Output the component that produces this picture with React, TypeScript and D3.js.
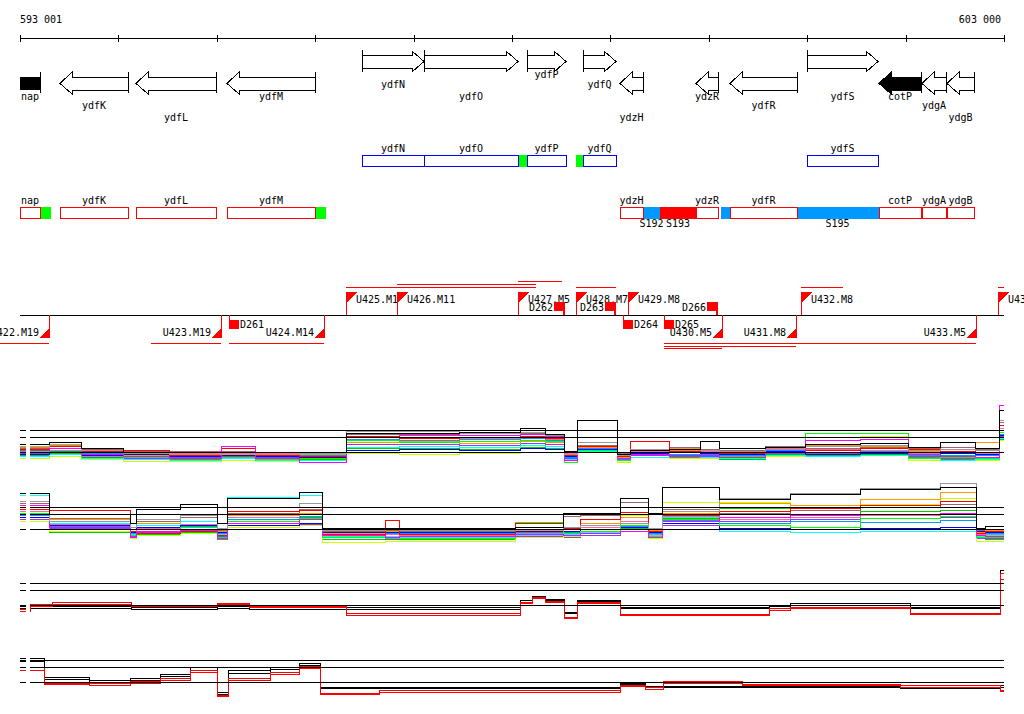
import React, { useEffect, useRef } from "react";
import * as d3 from "d3";

// genomic window (bp)
const windowStart = 593001;
const windowEnd = 603000;
const rulerTicks = [593001, 594000, 595000, 596000, 597000, 598000, 599000, 600000, 601000, 602000, 603000];
const rulerLabels = ["593 001", "603 000"];

// annotated genes
const geneNames = ["nap", "ydfK", "ydfL", "ydfM", "ydfN", "ydfO", "ydfP", "ydfQ", "ydzH", "ydzR", "ydfR", "ydfS", "cotP", "ydgA", "ydgB"];
const geneStarts = [593001, 593407, 594180, 595105, 596476, 597106, 598153, 598722, 599098, 599871, 600216, 600999, 601730, 602167, 602421];
const geneEnds = [593204, 594098, 594993, 595999, 597106, 598062, 598550, 599058, 599332, 600094, 600897, 601720, 602157, 602411, 602695];
const geneStrands = [-1, -1, -1, -1, 1, 1, 1, 1, -1, -1, -1, 1, -1, -1, -1];
const geneLabelTier = [2, 3, 4, 2, 1, 2, 0, 1, 4, 2, 3, 2, 2, 3, 4];
const filledGenes = ["nap", "cotP"];

// extra features on the box rows
const blockStarts = [598062, 598651, 593204, 595999, 599332, 599505, 600125, 600897];
const blockEnds = [598153, 598722, 593306, 596100, 599505, 599871, 600216, 601720];
const blockStrands = [1, 1, -1, -1, -1, -1, -1, -1];
const blockKinds = ["utr", "utr", "utr", "utr", "intergenic", "transcribed", "intergenic", "intergenic"];
const blockLabels = ["", "", "", "", "S192", "S193", "", "S195"];

// segmentation breakpoints
const upNames = ["U425.M1", "U426.M11", "U427.M5", "U428.M7", "U429.M8", "U432.M8", "U43"];
const upPos = [596314, 596832, 598062, 598651, 599179, 600938, 602939];
const downNames = ["U422.M19", "U423.M19", "U424.M14", "U430.M5", "U431.M8", "U433.M5"];
const downPos = [593296, 595044, 596090, 600135, 600887, 602716];
const dNames = ["D261", "D262", "D263", "D264", "D265", "D266"];
const dPos = [595125, 598529, 599047, 599129, 599545, 600084];
const dStrands = [-1, 1, 1, -1, -1, 1];

// transcript spans
const spanStarts = [596314, 596832, 598062, 598651, 600938, 602939, 592798, 594332, 595125, 599545, 599545, 599545];
const spanEnds = [598245, 598245, 598509, 599057, 601364, 603000, 593296, 595044, 596090, 602716, 600887, 600135];
const spanStrands = [1, 1, 1, 1, 1, 1, -1, -1, -1, -1, -1, -1];
const spanTier = [0, 1, 2, 0, 0, 0, 0, 0, 0, 0, 1, 2];

// conditions (tiling array hybridisations)
const conditionColors = ["#000000", "#999999", "#ff00ff", "#ff0000", "#00ff00", "#0000ff", "#00ffff", "#ff9900", "#ccff00", "#996666", "#0099ff", "#9933ff", "#ff6699", "#00cc00"];
const thresholds = [10, 9.35, 7.85];

const fwdBreaks = [593001, 593296, 593631, 594048, 594525, 595044, 595399, 595846, 596314, 596862, 597472, 598082, 598336, 598539, 598671, 599068, 599200, 599596, 599911, 600114, 600572, 600978, 601537, 602025, 602350, 602706, 602950];
const fwdSignal = [
  [8.6, 8.8, 8.2, 7.8, 7.8, 7.8, 7.8, 7.8, 9.7, 9.7, 9.8, 10.2, 9.6, 7.9, 11.0, 7.6, 8.0, 8.1, 8.9, 8.2, 8.3, 8.6, 8.7, 8.3, 8.8, 8.2, 12.0],
  [8.3, 8.5, 8.0, 7.7, 7.6, 7.8, 7.6, 7.7, 9.9, 9.9, 9.7, 9.8, 9.5, 7.6, 8.8, 7.5, 8.1, 8.0, 8.0, 7.9, 8.2, 8.4, 8.5, 8.0, 8.1, 8.0, 11.0],
  [8.0, 8.2, 7.6, 7.4, 7.2, 8.4, 7.2, 6.8, 9.7, 9.6, 9.5, 9.6, 9.4, 7.0, 11.0, 7.2, 7.6, 7.4, 7.5, 7.3, 7.8, 9.0, 9.1, 7.6, 7.4, 7.3, 12.5],
  [8.1, 8.4, 7.9, 8.0, 7.5, 8.2, 7.5, 7.4, 9.4, 9.2, 9.3, 9.4, 9.2, 7.5, 8.4, 7.4, 8.9, 7.9, 7.8, 7.7, 8.2, 8.0, 8.2, 8.1, 7.9, 7.8, 10.5],
  [7.9, 8.0, 7.4, 7.3, 7.2, 7.3, 7.1, 7.2, 9.0, 8.8, 8.9, 9.0, 8.9, 6.8, 8.0, 7.0, 8.9, 7.4, 7.5, 7.4, 7.8, 9.7, 9.7, 7.2, 7.3, 7.2, 9.8],
  [7.6, 7.8, 7.5, 7.6, 7.4, 7.5, 7.4, 7.3, 8.0, 8.1, 8.0, 8.2, 8.1, 7.4, 8.1, 7.5, 7.7, 7.8, 7.7, 7.6, 7.9, 7.6, 7.7, 7.8, 7.7, 7.6, 9.5],
  [7.4, 7.6, 7.2, 7.1, 7.0, 7.2, 7.0, 7.0, 8.3, 8.4, 8.3, 8.5, 8.4, 7.1, 7.9, 7.0, 7.3, 7.4, 7.3, 7.2, 7.5, 7.4, 7.5, 7.2, 7.0, 7.1, 9.2],
  [8.4, 8.6, 7.8, 7.5, 7.6, 7.6, 7.5, 7.6, 8.8, 8.9, 8.7, 8.9, 8.8, 7.6, 8.3, 7.3, 8.1, 8.2, 8.0, 7.9, 8.3, 8.5, 8.4, 7.9, 7.8, 8.8, 10.0],
  [7.2, 7.4, 7.1, 6.9, 6.9, 7.0, 6.9, 7.0, 7.7, 7.6, 7.7, 7.8, 7.8, 6.8, 7.8, 6.8, 8.9, 7.2, 7.2, 7.2, 7.4, 9.3, 9.4, 7.0, 7.0, 7.0, 9.0],
  [8.2, 8.6, 8.1, 7.9, 7.9, 7.9, 7.8, 7.8, 9.6, 9.5, 9.5, 9.7, 9.6, 7.8, 8.5, 7.7, 8.0, 8.3, 8.1, 8.0, 8.4, 8.2, 8.3, 8.2, 8.3, 8.1, 10.8],
  [7.8, 8.0, 7.7, 7.5, 7.5, 7.6, 7.5, 7.5, 9.1, 9.0, 9.1, 9.2, 9.0, 7.3, 8.2, 7.1, 7.8, 7.6, 7.6, 7.5, 8.0, 7.8, 7.9, 7.5, 7.5, 7.5, 9.6],
  [7.7, 7.9, 7.3, 7.2, 7.3, 7.4, 7.3, 7.2, 8.6, 8.6, 8.5, 8.7, 8.6, 7.2, 8.0, 7.2, 7.5, 7.5, 7.4, 7.3, 7.7, 7.7, 7.8, 7.4, 7.2, 7.3, 9.4],
  [8.0, 8.2, 7.9, 7.7, 7.7, 7.7, 7.7, 7.6, 9.3, 9.3, 9.2, 9.3, 9.1, 7.7, 8.3, 7.6, 7.9, 8.0, 7.9, 7.8, 8.1, 8.1, 8.0, 7.7, 7.9, 7.7, 10.2],
  [7.5, 7.7, 7.6, 7.4, 7.1, 7.3, 7.2, 7.1, 8.2, 8.2, 8.1, 8.3, 8.2, 7.0, 7.9, 7.2, 7.6, 7.3, 7.3, 7.1, 7.6, 7.5, 7.6, 7.3, 7.1, 7.2, 9.1],
];

const revBreaks = [593001, 593296, 594119, 594180, 594627, 595003, 595105, 595846, 596070, 596710, 596862, 598031, 598519, 598692, 599098, 599383, 599525, 600114, 600826, 601537, 602350, 602716, 602807];
const revSignal = [
  [11.4, 9.3, 8.4, 9.8, 10.3, 8.4, 10.9, 11.5, 7.9, 7.9, 7.9, 8.0, 9.4, 9.4, 10.9, 9.4, 12.0, 10.8, 11.3, 11.8, 12.0, 7.9, 8.1],
  [10.6, 8.6, 8.0, 8.8, 9.2, 7.9, 10.0, 10.4, 7.7, 7.8, 7.7, 7.8, 8.0, 8.2, 8.4, 7.9, 9.6, 10.9, 11.4, 11.9, 12.4, 7.8, 7.8],
  [10.2, 8.0, 7.0, 7.6, 7.8, 6.9, 8.4, 8.8, 7.2, 7.0, 7.1, 7.3, 7.2, 7.4, 7.6, 7.0, 8.6, 9.0, 9.2, 9.3, 9.4, 7.2, 7.1],
  [9.8, 9.7, 7.6, 7.4, 7.6, 7.2, 9.6, 9.7, 7.3, 8.7, 7.3, 8.4, 7.9, 8.8, 9.5, 7.6, 9.2, 9.6, 9.9, 10.2, 10.6, 7.4, 7.6],
  [9.4, 7.8, 7.2, 7.8, 8.0, 7.0, 8.6, 8.9, 7.0, 6.9, 6.9, 8.5, 7.4, 7.6, 8.2, 7.1, 8.8, 8.2, 8.0, 8.9, 9.1, 7.0, 7.0],
  [9.0, 8.2, 7.5, 8.0, 8.2, 7.5, 8.2, 8.4, 7.5, 7.5, 7.5, 7.6, 7.6, 7.8, 8.0, 7.5, 8.4, 7.9, 7.8, 7.9, 8.0, 7.6, 7.5],
  [11.2, 8.4, 7.3, 8.2, 8.6, 7.3, 11.0, 11.2, 7.1, 7.1, 7.0, 7.2, 7.3, 7.5, 7.8, 7.2, 9.0, 7.6, 7.5, 7.6, 7.6, 7.1, 7.2],
  [10.0, 8.8, 7.6, 8.4, 8.6, 7.6, 9.2, 9.4, 7.4, 7.6, 7.5, 7.7, 7.8, 8.4, 9.0, 7.7, 9.4, 10.4, 10.2, 10.8, 11.5, 7.5, 7.7],
  [8.6, 7.6, 6.9, 7.2, 7.4, 6.9, 8.0, 8.2, 6.5, 6.6, 6.6, 7.0, 7.1, 7.5, 9.2, 6.9, 10.5, 10.5, 10.0, 10.3, 10.9, 6.6, 6.6],
  [10.4, 8.9, 7.8, 8.6, 9.0, 7.7, 9.4, 9.8, 7.6, 7.7, 7.6, 7.8, 9.1, 9.2, 10.5, 7.8, 9.8, 9.4, 9.7, 10.0, 10.3, 7.7, 7.7],
  [9.2, 8.1, 7.4, 7.8, 8.1, 7.4, 8.8, 9.0, 7.6, 7.4, 7.4, 7.5, 7.5, 7.8, 8.1, 7.4, 8.7, 8.4, 8.6, 8.5, 8.7, 7.5, 7.4],
  [8.8, 7.9, 7.1, 7.5, 7.7, 7.1, 8.0, 8.3, 7.0, 6.8, 6.9, 7.1, 7.0, 7.2, 7.6, 6.9, 8.2, 8.6, 8.8, 8.9, 9.0, 6.9, 6.9],
  [9.6, 8.3, 7.4, 7.9, 8.3, 7.2, 9.0, 9.3, 7.3, 7.3, 7.2, 7.4, 7.6, 8.0, 8.6, 7.3, 9.1, 8.8, 9.0, 9.2, 9.3, 7.3, 7.3],
  [9.0, 7.5, 7.0, 7.3, 7.5, 6.8, 8.8, 9.1, 6.8, 6.8, 6.8, 7.3, 7.2, 7.4, 7.9, 7.0, 8.9, 9.9, 9.3, 9.6, 9.7, 6.9, 6.8],
];

// averaged replicates
const avgColors = ["#000000", "#000000", "#ff0000", "#ff0000"];
const fwdAvgBreaks = [593001, 593103, 593336, 594129, 595003, 595338, 596314, 598082, 598204, 598336, 598539, 598671, 599098, 600622, 600826, 602045, 602960];
const fwdAvg = [
  [7.7, 7.7, 7.7, 7.6, 7.7, 7.6, 7.6, 8.3, 8.7, 8.4, 7.1, 8.3, 7.6, 7.8, 8.0, 7.6, 11.3],
  [7.5, 7.5, 7.5, 7.4, 7.5, 7.4, 7.4, 8.1, 8.5, 8.3, 7.0, 8.2, 7.5, 7.7, 7.8, 7.5, 11.0],
  [7.4, 7.9, 8.1, 7.8, 7.9, 7.7, 7.0, 8.1, 8.6, 8.2, 6.6, 8.1, 6.9, 7.5, 7.6, 7.0, 11.0],
  [7.2, 7.7, 7.9, 7.7, 8.0, 7.6, 6.8, 8.0, 8.5, 8.1, 6.5, 8.0, 6.8, 7.3, 7.5, 6.9, 10.4],
];
const revAvgBreaks = [593001, 593255, 593712, 594119, 594424, 594729, 595003, 595115, 595542, 595846, 596050, 596659, 599098, 599352, 599535, 600338, 601944, 602960];
const revAvg = [
  [10.2, 8.3, 8.0, 8.2, 8.6, 9.3, 6.8, 9.0, 9.3, 9.7, 7.3, 7.3, 7.7, 7.4, 7.4, 7.4, 7.3, 7.5],
  [9.9, 8.1, 7.8, 8.0, 8.4, 9.0, 6.6, 8.7, 9.1, 9.5, 7.2, 7.2, 7.6, 7.3, 7.3, 7.3, 7.2, 7.3],
  [9.3, 7.7, 7.7, 7.9, 8.2, 9.0, 6.5, 8.2, 8.8, 9.4, 6.7, 7.0, 7.5, 7.3, 7.9, 7.6, 7.5, 7.0],
  [9.0, 7.6, 7.5, 7.7, 8.0, 8.8, 6.4, 8.0, 8.6, 9.2, 6.6, 6.8, 7.4, 7.1, 7.7, 7.5, 7.3, 6.9],
];

const App: React.FC = () => {
  const svgRef = useRef<SVGSVGElement | null>(null);

  useEffect(() => {
    if (!svgRef.current) return;
    document.body.style.margin = "0";
    const svg = d3.select(svgRef.current);
    svg.selectAll("*").remove();

    const x = d3.scaleLinear().domain([windowStart, windowEnd]).range([20, 1004]);
    const px = (bp: number) => Math.round(x(bp));
    const font = "'DejaVu Sans Mono', monospace";

    const label = (tx: number, ty: number, s: string, anchor = "start") =>
      svg
        .append("text")
        .attr("x", tx)
        .attr("y", ty)
        .attr("text-anchor", anchor)
        .attr("font-family", font)
        .attr("font-size", "10px")
        .attr("fill", "#000")
        .text(s);

    const hline = (x1: number, x2: number, y: number, color: string) =>
      svg
        .append("line")
        .attr("x1", x1)
        .attr("x2", x2)
        .attr("y1", y + 0.5)
        .attr("y2", y + 0.5)
        .attr("stroke", color);

    const vline = (xx: number, y1: number, y2: number, color: string) =>
      svg
        .append("line")
        .attr("x1", xx + 0.5)
        .attr("x2", xx + 0.5)
        .attr("y1", y1)
        .attr("y2", y2)
        .attr("stroke", color);

    // ruler
    hline(px(windowStart), px(windowEnd), 38, "#000");
    rulerTicks.forEach((t) => vline(px(t), 35, 42, "#000"));
    label(20, 23, rulerLabels[0]);
    label(1001, 23, rulerLabels[1], "end");

    // gene arrows
    const tierY = [78, 88, 100, 109, 121];
    geneNames.forEach((name, i) => {
      const s = px(geneStarts[i]);
      const e = px(geneEnds[i]);
      const fill = filledGenes.includes(name) ? "#000" : "#fff";
      let d = "";
      if (geneStrands[i] > 0) {
        const h = e - 12;
        d = `M${s},55 L${h},55 L${h},51 L${e},61.5 L${h},72 L${h},68 L${s},68 Z`;
        vline(s, 50, 72, "#000");
      } else {
        if (geneStarts[i] <= windowStart) {
          d = `M${s},77 L${e},77 L${e},89 L${s},89 Z`;
        } else {
          const h = s + 12;
          d = `M${e},77 L${h},77 L${h},72 L${s},83.5 L${h},94 L${h},90 L${e},90 Z`;
        }
      }
      svg.append("path").attr("d", d).attr("fill", fill).attr("stroke", "#000");
      if (geneStrands[i] < 0) vline(e, 72, 93, "#000");
      label((s + e) / 2, tierY[geneLabelTier[i]], name, "middle");
    });

    // box rows
    const rowTop = (strand: number) => (strand > 0 ? 155 : 207);
    const blockColor: Record<string, string> = { utr: "#00ff00", intergenic: "#0099ff", transcribed: "#ff0000" };
    blockStarts.forEach((b, i) => {
      const s = px(b);
      const e = px(blockEnds[i]);
      svg
        .append("rect")
        .attr("x", s)
        .attr("y", rowTop(blockStrands[i]))
        .attr("width", e - s + 1)
        .attr("height", 12)
        .attr("fill", blockColor[blockKinds[i]]);
      if (blockLabels[i]) label((s + e) / 2, 227, blockLabels[i], "middle");
    });
    geneNames.forEach((name, i) => {
      const s = px(geneStarts[i]);
      const e = px(geneEnds[i]);
      const top = rowTop(geneStrands[i]);
      svg
        .append("rect")
        .attr("x", s + 0.5)
        .attr("y", top + 0.5)
        .attr("width", e - s)
        .attr("height", 11)
        .attr("fill", "none")
        .attr("stroke", geneStrands[i] > 0 ? "#0000ff" : "#ff0000");
      label((s + e) / 2, top - 3, name, "middle");
    });

    // segmentation track
    hline(20, 1004, 315, "#000");
    const spanUp = [287, 284, 281];
    const spanDown = [343, 346, 348];
    spanStarts.forEach((b, i) => {
      const yy = spanStrands[i] > 0 ? spanUp[spanTier[i]] : spanDown[spanTier[i]];
      hline(px(b), px(spanEnds[i]), yy, "#ff0000");
    });
    upPos.forEach((p, i) => {
      const xx = px(p);
      vline(xx, 292, 315, "#ff0000");
      svg.append("path").attr("d", `M${xx},292 L${xx + 11},292 L${xx},303 Z`).attr("fill", "#ff0000");
      label(xx + 10, 303, upNames[i]);
    });
    downPos.forEach((p, i) => {
      const xx = px(p);
      vline(xx, 315, 338, "#ff0000");
      svg.append("path").attr("d", `M${xx + 1},338 L${xx - 10},338 L${xx + 1},327 Z`).attr("fill", "#ff0000");
      label(xx - 10, 336, downNames[i], "end");
    });
    dPos.forEach((p, i) => {
      const xx = px(p);
      if (dStrands[i] > 0) {
        svg.append("rect").attr("x", xx - 10).attr("y", 302).attr("width", 11).attr("height", 9).attr("fill", "#ff0000");
        svg.append("rect").attr("x", xx - 1).attr("y", 311).attr("width", 2).attr("height", 4).attr("fill", "#ff0000");
        label(xx - 11, 311, dNames[i], "end");
      } else {
        svg.append("rect").attr("x", xx).attr("y", 320).attr("width", 10).attr("height", 9).attr("fill", "#ff0000");
        vline(xx, 315, 320, "#ff0000");
        label(xx + 11, 328, dNames[i]);
      }
    });

    // expression tracks
    const defs = svg.append("defs");
    const clip = defs.append("clipPath").attr("id", "trackGap");
    clip.append("rect").attr("x", 0).attr("y", 0).attr("width", 26).attr("height", 714);
    clip.append("rect").attr("x", 30).attr("y", 0).attr("width", 1000).attr("height", 714);

    const panels = [
      { top: 430, breaks: fwdBreaks, series: fwdSignal, colors: conditionColors, blackOnTop: true },
      { top: 507, breaks: revBreaks, series: revSignal, colors: conditionColors, blackOnTop: true },
      { top: 583, breaks: fwdAvgBreaks, series: fwdAvg, colors: avgColors, blackOnTop: false },
      { top: 660, breaks: revAvgBreaks, series: revAvg, colors: avgColors, blackOnTop: false },
    ];

    panels.forEach((panel) => {
      const y = d3.scaleLinear().domain([10, 7]).range([panel.top, panel.top + 30]);
      const g = svg.append("g").attr("clip-path", "url(#trackGap)");
      const line = d3
        .line<[number, number]>()
        .x((d) => x(d[0]))
        .y((d) => y(d[1]))
        .curve(d3.curveStepAfter);
      const order = panel.series.map((_, i) => i);
      if (panel.blackOnTop) order.reverse();
      order.forEach((i) => {
        const vals = panel.series[i];
        const pts: [number, number][] = panel.breaks.map((b, k) => [b, vals[k]]);
        pts.push([windowEnd, vals[vals.length - 1]]);
        g.append("path")
          .attr("d", line(pts) || "")
          .attr("fill", "none")
          .attr("stroke", panel.colors[i])
          .attr("stroke-width", 1);
      });
      thresholds.forEach((t) => {
        g.append("line")
          .attr("x1", 20)
          .attr("x2", 1004)
          .attr("y1", Math.round(y(t)) + 0.5)
          .attr("y2", Math.round(y(t)) + 0.5)
          .attr("stroke", "#000");
      });
    });
  }, []);

  return (
    <svg
      ref={svgRef}
      width={1024}
      height={714}
      shapeRendering="crispEdges"
      style={{ display: "block", background: "#fff" }}
    />
  );
};

export default App;
